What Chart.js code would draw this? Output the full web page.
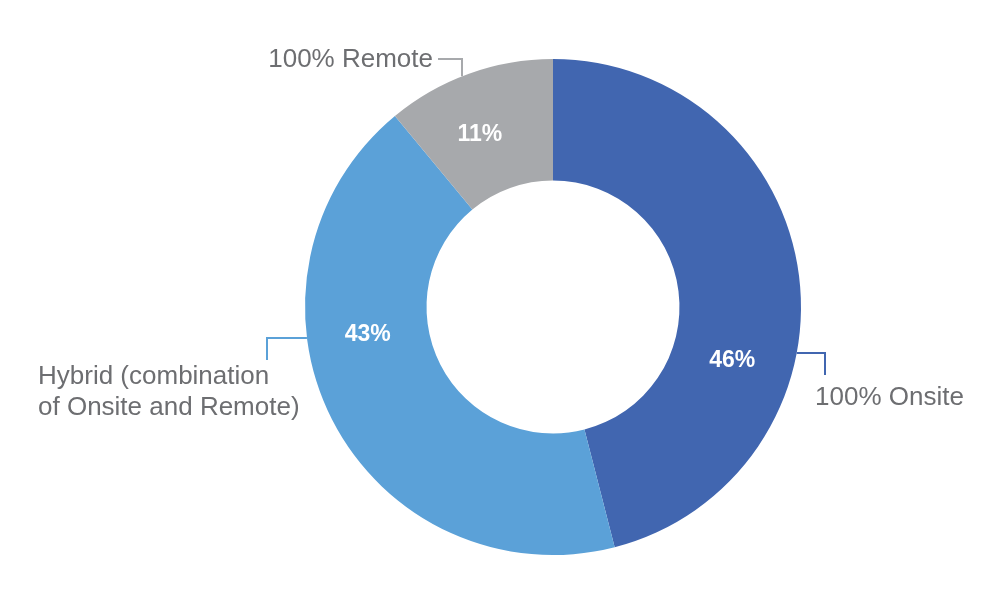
<!DOCTYPE html>
<html>
<head>
<meta charset="utf-8">
<script src="https://cdn.jsdelivr.net/npm/chart.js@4/dist/chart.umd.min.js"></script>
<style>
  html, body { margin: 0; padding: 0; background: #ffffff; }
  #wrap { width: 1007px; height: 597px; }
</style>
</head>
<body>
<div id="wrap"><canvas id="c" width="1007" height="597"></canvas></div>
<script>
// ---- data ----
const categories = ["100% Onsite", ["Hybrid (combination", "of Onsite and Remote)"], "100% Remote"];
const shares = [46, 43, 11];
const valueLabels = shares.map(v => v + "%");

// ---- style ----
const sliceColors = ["#4166B0", "#5BA1D8", "#A7A9AC"];
const textGray = "#6D6E71";

const valueLabelPlugin = {
  id: "valueLabels",
  afterDatasetsDraw(chart, args, opts) {
    const ctx = chart.ctx;
    const meta = chart.getDatasetMeta(0);
    ctx.save();
    ctx.fillStyle = "#ffffff";
    ctx.font = "bold 23px 'Liberation Sans', Arial, sans-serif";
    ctx.textAlign = "center";
    ctx.textBaseline = "middle";
    meta.data.forEach((arc, i) => {
      const p = arc.getProps(["x", "y", "startAngle", "endAngle", "innerRadius", "outerRadius"], true);
      const f = opts.anchor[i];
      const a = p.startAngle + f * (p.endAngle - p.startAngle);
      const r = (p.innerRadius + p.outerRadius) / 2;
      ctx.fillText(valueLabels[i], p.x + Math.cos(a) * r, p.y + Math.sin(a) * r);
    });
    ctx.restore();
  }
};

const calloutPlugin = {
  id: "callouts",
  afterDatasetsDraw(chart, args, opts) {
    const ctx = chart.ctx;
    const arc = chart.getDatasetMeta(0).data[0];
    const cx = arc.x, cy = arc.y, R = arc.outerRadius;
    ctx.save();
    ctx.lineWidth = 2;
    ctx.font = "26px 'Liberation Sans', Arial, sans-serif";
    ctx.textBaseline = "middle";
    opts.items.forEach((it, i) => {
      ctx.strokeStyle = sliceColors[i];
      ctx.beginPath();
      if (it.type === "side") {
        const sx = cx + it.side * Math.sqrt(R * R - it.dy * it.dy);
        const sy = cy + it.dy;
        ctx.moveTo(sx, sy);
        ctx.lineTo(cx + it.elbowDx, sy);
        ctx.lineTo(cx + it.elbowDx, sy + it.drop);
      } else {
        const sx = cx + it.dx;
        const sy = cy - Math.sqrt(R * R - it.dx * it.dx);
        ctx.moveTo(sx, sy);
        ctx.lineTo(sx, cy + it.topDy);
        ctx.lineTo(cx + it.endDx, cy + it.topDy);
      }
      ctx.stroke();
      ctx.fillStyle = textGray;
      ctx.textAlign = it.align;
      const lines = Array.isArray(categories[i]) ? categories[i] : [categories[i]];
      lines.forEach((ln, k) => {
        ctx.fillText(ln, cx + it.textDx, cy + it.textDy + k * it.lineH);
      });
    });
    ctx.restore();
  }
};

new Chart(document.getElementById("c"), {
  type: "doughnut",
  data: {
    labels: categories,
    datasets: [{
      data: shares,
      backgroundColor: sliceColors,
      borderWidth: 0,
      hoverOffset: 0
    }]
  },
  options: {
    responsive: false,
    animation: false,
    cutout: "51%",
    layout: { padding: { left: 305, right: 206, top: 59, bottom: 42 } },
    plugins: {
      legend: { display: false },
      tooltip: { enabled: false },
      valueLabels: { anchor: [0.645, 0.62, 0.42] },
      callouts: {
        items: [
          { type: "side", side: 1, dy: 46, elbowDx: 272, drop: 22, align: "left", textDx: 262, textDy: 91, lineH: 31 },
          { type: "side", side: -1, dy: 31, elbowDx: -286, drop: 22, align: "left", textDx: -515, textDy: 70, lineH: 31 },
          { type: "top", dx: -91, topDy: -248, endDx: -115, align: "right", textDx: -120, textDy: -247, lineH: 31 }
        ]
      }
    }
  },
  plugins: [valueLabelPlugin, calloutPlugin]
});
</script>
</body>
</html>
